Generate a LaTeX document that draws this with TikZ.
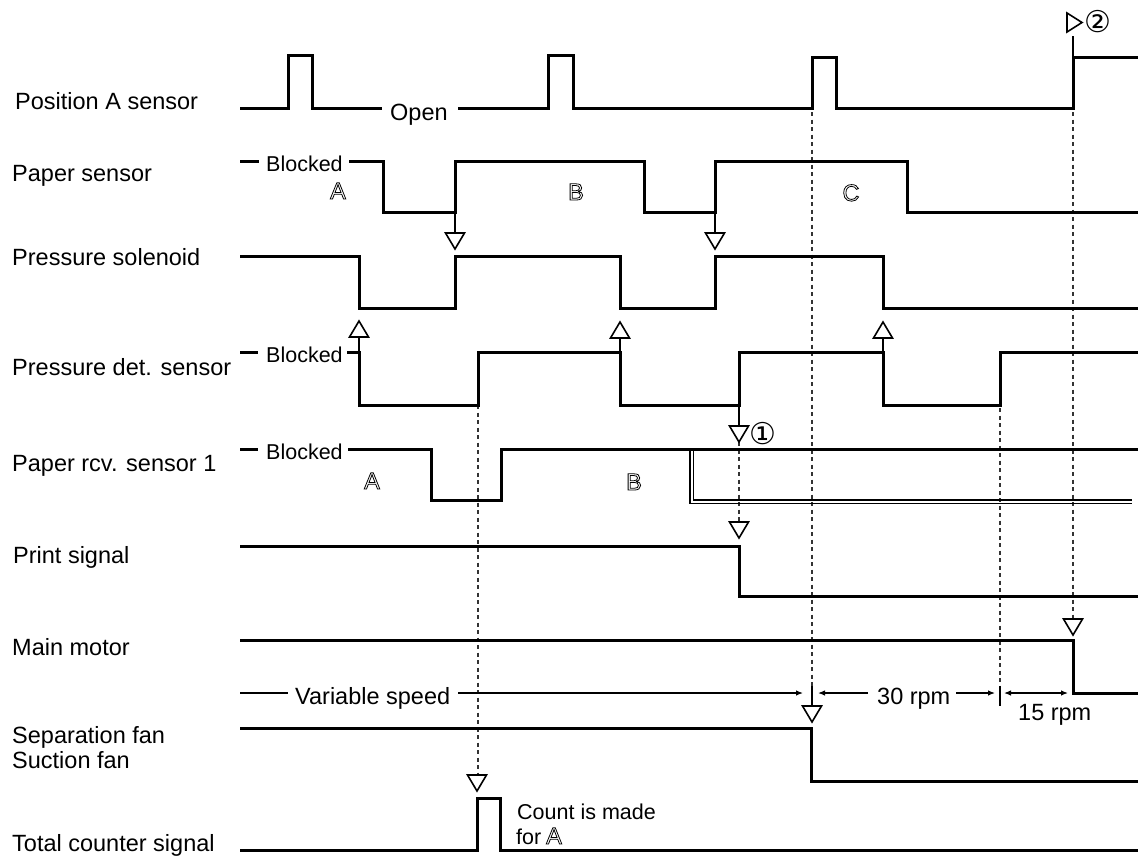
\documentclass[tikz,border=0pt]{standalone}
\usepackage{fontspec}
\setmainfont{Liberation Sans}
\newfontfamily\djvfont{DejaVu Sans}
\usetikzlibrary{arrows.meta}
\newcommand\olt[1]{\special{pdf:literal direct 1 Tr 0.8 w}#1\special{pdf:literal direct 0 Tr}}
\tikzset{
  sig/.style={line width=3pt, line join=miter},
  thinl/.style={line width=1.2pt},
  dbl/.style={line width=1.1pt},
  dsh/.style={line width=1.3pt, dash pattern=on 4pt off 3.5pt, black!80},
  tri/.style={line width=1.6pt, fill=white, line join=miter},
  pics/tdn/.style={code={\draw[tri] (-9.5,0) -- (9.5,0) -- (0,16) -- cycle;}},
  pics/tup/.style={code={\draw[tri] (-9.5,0) -- (9.5,0) -- (0,-16) -- cycle;}},
  lab/.style={font=\fontsize{23.5}{27}\selectfont, inner sep=0pt, anchor=base west},
  sm/.style={font=\fontsize{21.5}{25}\selectfont, inner sep=0pt, anchor=base west},
  hol/.style={font=\fontsize{23.5}{27}\selectfont, inner sep=0pt, anchor=base},
  circ/.style={font=\djvfont\fontsize{30}{34}\selectfont, inner sep=0pt},
  arr/.style={line width=1.2pt, -{Latex[length=7pt,width=5.5pt]}},
}
\begin{document}
\begin{tikzpicture}[x=1pt,y=-1pt]
\useasboundingbox (0,0) rectangle (1138,857);

% left labels
\node[lab] (l1) at (15,109) {Position A sensor};
\node[lab] (l2) at (12,181) {Paper sensor};
\node[lab] (l3) at (12,265) {Pressure solenoid};
\node[lab] (l4) at (12,375) {Pressure det. sensor};
\node[lab] (l5) at (12,471) {Paper rcv. sensor 1};
\node[lab] (l6) at (13,563) {Print signal};
\node[lab] (l7) at (12,655) {Main motor};
\node[lab] (l8) at (12,743) {Separation fan};
\node[lab] (l8b) at (12,768) {Suction fan};
\node[lab] (l9) at (12,851) {Total counter signal};

% dashed verticals
\draw[dsh] (478,405) -- (478,775);
\draw[dsh] (739,442) -- (739,522);
\draw[dsh] (812,112) -- (812,686);
\draw[dsh] (1000,408) -- (1000,686);
\draw[dsh] (1073,112) -- (1073,619);
\draw[thinl] (812,686) -- (812,706);
\draw[thinl] (1000,686) -- (1000,706);

% Row 1: Position A sensor
\draw[sig] (240,108) -| (288,55) -| (312,108) -- (382,108);
\node[lab] (open) at (390,120) {Open};
\draw[sig] (458,108) -| (548,55) -| (573,108) -| (812,57) -| (836,108) -| (1073,57) -- (1138,57);
\draw[thinl] (1073,36) -- (1073,57);
\draw[tri] (1067,13) -- (1082,22.5) -- (1067,32) -- cycle;
\node[circ] (c2) at (1098,22) {②};

% Row 2: Paper sensor
\draw[sig] (240,161) -- (259,161);
\node[sm] (bl1) at (266,171) {Blocked};
\draw[sig] (349,161) -| (383,212) -| (455,161) -| (644,212) -| (715,161) -| (907,212) -- (1138,212);

% Row 3: Pressure solenoid
\draw[sig] (240,256) -| (359,308) -| (455,256) -| (620,308) -| (715,256) -| (883,308) -- (1138,308);
\draw[thinl] (455,212) -- (455,233);
\draw[thinl] (715,212) -- (715,233);
\pic at (455,233) {tdn};
\pic at (715,233) {tdn};

% Row 4: Pressure det. sensor
\draw[sig] (240,352) -- (258,352);
\node[sm] (bl2) at (266,362) {Blocked};
\draw[sig] (347,352) -| (359,405) -| (478,352) -| (620,405) -| (739,352) -| (883,405) -| (1000,352) -- (1138,352);
\draw[thinl] (359,337) -- (359,352);
\draw[thinl] (620,338) -- (620,352);
\draw[thinl] (883,338) -- (883,352);
\pic at (359,337) {tup};
\pic at (620,338) {tup};
\pic at (883,338) {tup};

% Row 5: Paper rcv. sensor 1
\draw[sig] (240,449) -- (258,449);
\node[sm] (bl3) at (266,459) {Blocked};
\draw[sig] (348,449) -| (431,500) -| (501,449) -- (1138,449);
\draw[dbl] (690,450.5) |- (1132,503.8);
\draw[dbl] (693.8,450.5) |- (1132,500);
\draw[thinl] (739,405) -- (739,426);
\pic at (739,426) {tdn};
\node[circ] (c1) at (763,434) {①};

% Row 6: Print signal
\draw[sig] (240,546) -| (739,596) -- (1138,596);
\pic at (739,522) {tdn};

% Row 7: Main motor
\draw[sig] (240,640) -| (1073,693) -- (1138,693);
\pic at (1073,619) {tdn};

% speed annotations
\draw[thinl] (240,693) -- (288,693);
\node[lab] (vs) at (295,704) {Variable speed};
\draw[arr] (458,693) -- (803,693);
\draw[arr] (868,693) -- (818,693);
\node[lab] (r30) at (877,704) {30 rpm};
\draw[arr] (956,693) -- (995,693);
\draw[line width=1.2pt, {Latex[length=7pt,width=5.5pt]}-{Latex[length=7pt,width=5.5pt]}] (1004,693) -- (1068,693);
\node[lab] (r15) at (1018,720) {15 rpm};

% Row 8: Separation fan / Suction fan
\draw[sig] (240,728) -| (811,781) -- (1138,781);
\pic at (812,706) {tdn};

% Row 9: Total counter signal
\draw[sig] (240,850) -| (477,798) -| (500,850) -- (1138,850);
\pic at (477,775) {tdn};
\node[sm] (cnt) at (517,819) {Count is made};
\node[sm] (cnt2) at (516,844) {for};

% hollow letters
\node[hol] (ha1) at (338,199) {\olt{A}};
\node[hol] (hb1) at (576,200) {\olt{B}};
\node[hol] (hc1) at (851,201) {\olt{C}};
\node[hol] (ha2) at (372,489) {\olt{A}};
\node[hol] (hb2) at (634,490) {\olt{B}};
\node[hol] (ha3) at (554,844) {\olt{A}};
\end{tikzpicture}
\end{document}
